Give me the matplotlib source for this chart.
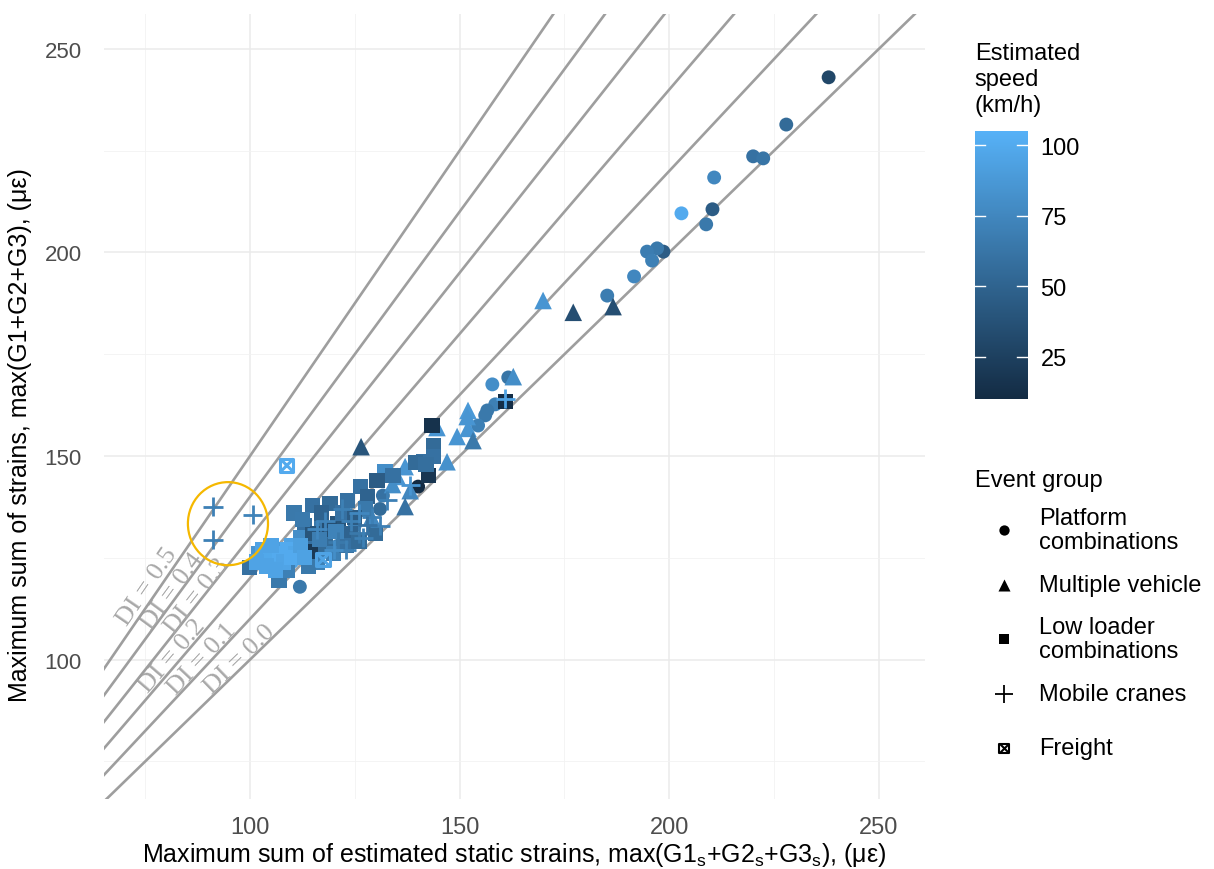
import numpy as np
import matplotlib
matplotlib.use('Agg')
import matplotlib.pyplot as plt
from matplotlib import font_manager
from matplotlib.colors import LinearSegmentedColormap, Normalize
from matplotlib.patches import Ellipse
import matplotlib.transforms as mtransforms

#================================================================================================================================================
# values read off the picture: (static strain, measured strain, speed)
platform_x = [238.0, 227.9, 220.0, 222.4, 210.7, 210.3, 208.8, 202.9, 198.6, 197.1, 194.7, 195.9, 191.6, 185.2,
              157.8, 161.6, 158.5, 156.6, 156.1, 154.4, 140.1, 131.7, 111.9, 118.0, 121.0, 125.0, 113.0, 110.0, 131.0]
platform_y = [243.0, 231.4, 223.6, 223.1, 218.4, 210.6, 206.9, 209.6, 200.2, 201.0, 200.2, 198.0, 194.1, 189.4,
              167.6, 169.3, 162.7, 161.2, 160.0, 157.5, 142.5, 140.3, 117.9, 131.0, 128.0, 133.0, 126.0, 124.0, 137.0]
platform_v = [30, 55, 60, 62, 75, 45, 65, 100, 45, 65, 68, 70, 75, 68,
              80, 62, 70, 65, 65, 70, 10, 60, 65, 60, 65, 70, 95, 95, 55]

multi_x = [169.9, 177.1, 186.6, 162.8, 152.0, 151.8, 152.0, 153.2, 149.4, 144.6, 147.0, 137.0, 135.1, 138.2,
           137.0, 126.5, 134.0, 129.0]
multi_y = [188.2, 185.3, 186.7, 169.5, 161.2, 159.7, 156.8, 153.8, 154.8, 157.0, 148.6, 147.4, 145.0, 141.5,
           137.6, 152.3, 143.0, 135.0]
multi_v = [85, 35, 35, 80, 88, 85, 85, 65, 85, 85, 82, 85, 85, 75, 60, 40, 80, 75]

lowloader_x = [160.9, 143.4, 143.7, 143.7, 141.3, 142.5, 139.5, 142.0, 132.2, 130.3, 134.1, 126.3, 119.1, 115.0,
               123.2, 99.8, 106.9, 128.0, 127.5, 130.0, 117.0, 113.0, 110.5, 121.0, 124.0, 113.0, 116.0, 109.0,
               104.0, 102.0, 107.5, 110.0, 112.0, 118.0, 120.0, 114.0, 123.0, 126.0, 117.0, 122.0, 125.0, 115.0,
               119.0, 114.3, 103.0, 105.0, 107.0, 109.0, 111.0, 105.0, 108.0, 110.0, 106.0, 112.0, 104.0, 113.0,
               101.5, 116.5, 120.5, 112.5]
lowloader_y = [163.4, 157.5, 152.6, 149.9, 148.6, 145.2, 148.5, 148.0, 146.2, 144.0, 145.2, 142.5, 138.3, 137.8,
               139.1, 122.6, 119.4, 140.0, 137.0, 131.0, 134.0, 133.0, 136.0, 133.5, 131.0, 128.0, 124.0, 122.0,
               125.0, 126.0, 127.0, 128.0, 130.0, 128.0, 126.0, 123.0, 128.0, 129.0, 136.0, 136.0, 135.0, 131.0,
               132.0, 126.5, 127.0, 125.0, 126.0, 127.0, 126.0, 128.0, 124.0, 125.0, 122.0, 128.0, 123.0, 125.0,
               124.0, 129.5, 131.5, 134.5]
lowloader_v = [12, 15, 55, 60, 60, 18, 55, 58, 80, 45, 60, 60, 55, 60,
               60, 60, 65, 50, 65, 55, 65, 60, 65, 40, 50, 60, 70, 70,
               70, 85, 90, 95, 80, 55, 70, 65, 60, 55, 50, 60, 45, 40,
               35, 20, 95, 98, 100, 100, 97, 95, 96, 100, 95, 92, 95, 94,
               95, 68, 72, 66]

crane_x = [91.2, 100.7, 91.2, 160.9, 138.2, 132.7, 131.0, 122.0, 124.0, 126.0, 129.0, 121.0, 123.0, 126.0,
           128.0, 118.0, 120.0, 127.0, 116.0]
crane_y = [137.6, 135.6, 129.5, 164.1, 142.8, 139.1, 132.9, 137.0, 134.0, 136.0, 135.0, 129.0, 127.0, 131.0,
           133.0, 134.0, 127.0, 130.0, 132.0]
crane_v = [70, 72, 70, 95, 85, 70, 70, 70, 70, 75, 70, 65, 70, 65, 60, 72, 80, 70, 75]

freight_x = [108.8, 117.4]
freight_y = [147.7, 124.6]
freight_v = [100, 95]

group_names = ['Platform\ncombinations', 'Multiple vehicle', 'Low loader\ncombinations', 'Mobile cranes', 'Freight']
di_values = [0.0, 0.1, 0.2, 0.3, 0.4, 0.5]
# where the DI labels sit (x, y in data units)
di_label_x = [97.6, 88.5, 81.4, 87.4, 81.4, 75.4]
di_label_y = [100.2, 100.2, 101.0, 115.7, 117.0, 118.2]
speed_ticks = [25, 50, 75, 100]

#================================================================================================================================================
def pickFont(name, fallback):
    try:
        font_manager.findfont(name, fallback_to_default=False)
        return name
    except Exception:
        return fallback


def main():
    sans = 'Liberation Sans'
    narrow = pickFont('Liberation Sans Narrow', 'Liberation Sans')
    plt.rcParams['font.family'] = [sans, 'DejaVu Sans']
    plt.rcParams['mathtext.fontset'] = 'custom'
    plt.rcParams['mathtext.rm'] = narrow

    cmap = LinearSegmentedColormap.from_list('ggblue', ['#132B43', '#56B1F7'])
    norm = Normalize(vmin=10, vmax=105)

    fig = plt.figure(figsize=(12.14, 8.70), dpi=100)
    ax = fig.add_axes([0.0857, 0.0805, 0.6763, 0.9025])
    ax.set_xlim(65.2, 261.0)
    ax.set_ylim(65.8, 258.6)

    # grid like theme_minimal
    ax.set_xticks([100, 150, 200, 250])
    ax.set_yticks([100, 150, 200, 250])
    ax.set_xticks([75, 125, 175, 225], minor=True)
    ax.set_yticks([75, 125, 175, 225], minor=True)
    ax.grid(which='major', color='#EBEBEB', linewidth=1.1)
    ax.grid(which='minor', color='#F2F2F2', linewidth=0.6)
    ax.set_axisbelow(True)
    for sp in ax.spines.values():
        sp.set_visible(False)
    ax.tick_params(which='both', length=0)
    ax.tick_params(axis='x', labelsize=17, labelcolor='#4D4D4D', pad=12)
    ax.tick_params(axis='y', labelsize=16, labelcolor='#4D4D4D', pad=16)
    for lab in ax.get_xticklabels():
        lab.set_family(narrow)

    # dynamic increment reference lines
    xs = np.linspace(60, 270, 50)
    for di, lx, ly in zip(di_values, di_label_x, di_label_y):
        ax.plot(xs, (1 + di) * xs, color='#9E9E9E', linewidth=1.9, zorder=2)
        ax.text(lx, ly, 'DI = %.1f' % di, color='#A8A8A8', fontsize=19, family='Liberation Serif',
                rotation=np.degrees(np.arctan(1 + di)), transform_rotates_text=True,
                rotation_mode='anchor', ha='center', va='center', zorder=2)

    # points
    ax.scatter(platform_x, platform_y, c=platform_v, cmap=cmap, norm=norm, marker='o', s=100,
               linewidths=0, zorder=3)
    ax.scatter(multi_x, multi_y, c=multi_v, cmap=cmap, norm=norm, marker='^', s=160,
               linewidths=0, zorder=3)
    ax.scatter(lowloader_x, lowloader_y, c=lowloader_v, cmap=cmap, norm=norm, marker='s', s=120,
               linewidths=0, zorder=3)
    ax.scatter(crane_x, crane_y, c=crane_v, cmap=cmap, norm=norm, marker='+', s=190,
               linewidths=2.0, zorder=3)
    fcol = cmap(norm(np.array(freight_v)))
    ax.scatter(freight_x, freight_y, facecolors='none', edgecolors=fcol, marker='s', s=90,
               linewidths=2.2, zorder=3)
    ax.scatter(freight_x, freight_y, c=fcol, marker='x', s=90, linewidths=2.2, zorder=3)

    # highlighted mobile cranes
    ax.add_patch(Ellipse((94.75, 133.4), 19.1, 20.4, fill=False, edgecolor='#F5B800', linewidth=1.6, zorder=4))

    ax.set_xlabel('Maximum sum of estimated static strains, max(G1$_\\mathrm{s}$+G2$_\\mathrm{s}$+G3$_\\mathrm{s}$), (\u03bc\u03b5)',
                  fontsize=18, family=[narrow, 'DejaVu Sans'], labelpad=2)
    ax.set_ylabel('Maximum sum of strains, max(G1+G2+G3), (\u03bc\u03b5)',
                  fontsize=18, family=[narrow, 'DejaVu Sans'])
    ax.yaxis.set_label_coords(-0.088, 0.465)

    # colour bar
    cax = fig.add_axes([0.803, 0.540, 0.0437, 0.308])
    sm = plt.cm.ScalarMappable(norm=norm, cmap=cmap)
    cb = fig.colorbar(sm, cax=cax, ticks=speed_ticks)
    cb.outline.set_visible(False)
    cax.tick_params(length=0, labelsize=17, pad=9)
    trans = mtransforms.blended_transform_factory(cax.transAxes, cax.transData)
    for t in speed_ticks:
        cax.plot([0, 0.2], [t, t], color='white', linewidth=1.0, transform=trans)
        cax.plot([0.8, 1.0], [t, t], color='white', linewidth=1.0, transform=trans)
    fig.text(0.803, 0.950, 'Estimated\nspeed\n(km/h)', fontsize=17, va='top', ha='left', linespacing=1.22)

    # shape legend
    fig.text(0.803, 0.447, 'Event group', fontsize=17, va='center', ha='left')
    lax = fig.add_axes([0.80, 0.1, 0.2, 0.32])
    lax.set_xlim(0, 1)
    lax.set_ylim(0, 1)
    lax.axis('off')
    legend_markers = ['o', '^', 's', '+', 's']
    legend_sizes = [55, 75, 50, 150, 45]
    for i, (name, mk, sz) in enumerate(zip(group_names, legend_markers, legend_sizes)):
        yy = 0.905 - i * 0.196
        if i == 4:
            lax.scatter([0.135], [yy], marker='s', s=sz, facecolors='none', edgecolors='black', linewidths=1.5)
            lax.scatter([0.135], [yy], marker='x', s=sz, color='black', linewidths=1.5)
        elif mk == '+':
            lax.scatter([0.135], [yy], marker=mk, s=sz, color='black', linewidths=1.3)
        else:
            lax.scatter([0.135], [yy], marker=mk, s=sz, color='black', linewidths=0)
        lax.text(0.28, yy, name, fontsize=17, va='center', ha='left', linespacing=1.15)

    plt.savefig('out.png', dpi=100)


if __name__ == "__main__":
    main()
